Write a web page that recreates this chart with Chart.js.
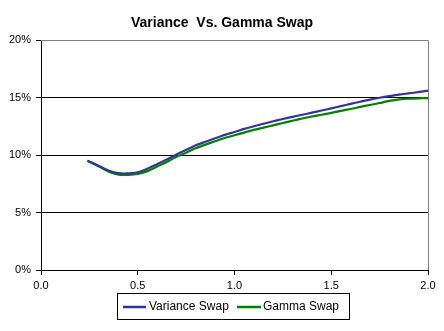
<!DOCTYPE html>
<html>
<head>
<meta charset="utf-8">
<script src="https://cdn.jsdelivr.net/npm/chart.js@4"></script>
<style>
  html, body { margin: 0; padding: 0; background: #fff; }
  #wrap { width: 444px; height: 331px; position: relative; }
</style>
</head>
<body>
<div id="wrap"><canvas id="swapChart" width="444" height="331"></canvas></div>
<script>
// Données
const chartTitle = 'Variance  Vs. Gamma Swap';
const maturities = [0.24, 0.30, 0.35, 0.40, 0.45, 0.50, 0.55, 0.60, 0.65, 0.70,
                    0.75, 0.80, 0.85, 0.90, 0.95, 1.00, 1.05, 1.10, 1.15, 1.20,
                    1.25, 1.30, 1.35, 1.40, 1.45, 1.50, 1.55, 1.60, 1.65, 1.70,
                    1.75, 1.80, 1.85, 1.90, 1.95, 2.00];
const varianceSwap = [9.5, 9.05, 8.65, 8.42, 8.4, 8.5, 8.8, 9.2, 9.6, 10.05,
                      10.45, 10.85, 11.15, 11.45, 11.75, 12.0, 12.27, 12.5, 12.72, 12.93,
                      13.13, 13.32, 13.5, 13.68, 13.87, 14.05, 14.25, 14.45, 14.63, 14.82,
                      14.98, 15.12, 15.25, 15.36, 15.47, 15.6];
const gammaSwap = [9.5, 9.0, 8.55, 8.3, 8.28, 8.35, 8.6, 9.0, 9.4, 9.85,
                   10.2, 10.58, 10.9, 11.2, 11.48, 11.72, 11.95, 12.18, 12.38, 12.58,
                   12.78, 12.98, 13.17, 13.35, 13.5, 13.66, 13.84, 14.0, 14.18, 14.35,
                   14.52, 14.7, 14.83, 14.9, 14.93, 14.95];
const seriesNames = ['Variance Swap', 'Gamma Swap'];
const seriesColors = ['#333399', '#008000'];
const xTicks = [0, 0.5, 1, 1.5, 2];
const yTicks = [0, 5, 10, 15, 20];

const FONT = '"Liberation Sans", Arial, sans-serif';

function toPoints(values) {
    return maturities.map((m, i) => ({ x: m, y: values[i] }));
}

// Titre, cadre gris et légende encadrée
const decorPlugin = {
    id: 'decor',
    afterDraw(chart) {
        const ctx = chart.ctx;
        const area = chart.chartArea;
        ctx.save();
        // cadre gris haut / droite
        ctx.strokeStyle = '#808080';
        ctx.lineWidth = 1;
        ctx.beginPath();
        ctx.moveTo(area.left, area.top + 0.5);
        ctx.lineTo(area.right + 0.5, area.top + 0.5);
        ctx.lineTo(area.right + 0.5, area.bottom);
        ctx.stroke();

        // titre
        ctx.fillStyle = '#000';
        ctx.font = 'bold 14px ' + FONT;
        ctx.textAlign = 'center';
        ctx.textBaseline = 'middle';
        ctx.fillText(chartTitle, 222, 23);

        // légende
        ctx.strokeStyle = '#000';
        ctx.strokeRect(117.5, 293.5, 232, 26);
        ctx.font = '12px ' + FONT;
        ctx.textAlign = 'left';
        const items = [
            { x1: 123, x2: 146, tx: 149 },
            { x1: 237, x2: 261, tx: 263 }
        ];
        items.forEach((it, i) => {
            ctx.strokeStyle = seriesColors[i];
            ctx.lineWidth = 2.5;
            ctx.beginPath();
            ctx.moveTo(it.x1, 307);
            ctx.lineTo(it.x2, 307);
            ctx.stroke();
            ctx.fillStyle = '#000';
            ctx.fillText(seriesNames[i], it.tx, 307);
        });
        ctx.restore();
    }
};

const ctx = document.getElementById('swapChart').getContext('2d');
const swapChart = new Chart(ctx, {
    type: 'line',
    data: {
        datasets: [
            {
                label: seriesNames[0],
                data: toPoints(varianceSwap),
                borderColor: seriesColors[0],
                borderWidth: 2.2,
                pointRadius: 0,
                tension: 0.2,
                fill: false
            },
            {
                label: seriesNames[1],
                data: toPoints(gammaSwap),
                borderColor: seriesColors[1],
                borderWidth: 2.2,
                pointRadius: 0,
                tension: 0.2,
                fill: false
            }
        ]
    },
    options: {
        responsive: false,
        animation: false,
        layout: { padding: { top: 40, right: 16, bottom: 0, left: 0 } },
        plugins: {
            legend: { display: false },
            title: { display: false },
            tooltip: { enabled: false }
        },
        scales: {
            x: {
                type: 'linear',
                min: 0,
                max: 2,
                afterFit: scale => { scale.height = 61; },
                afterBuildTicks: scale => { scale.ticks = xTicks.map(v => ({ value: v })); },
                ticks: {
                    color: '#000',
                    font: { family: FONT, size: 11 },
                    padding: 4,
                    maxRotation: 0,
                    callback: value => value.toFixed(1)
                },
                grid: {
                    drawOnChartArea: false,
                    drawTicks: true,
                    tickLength: 5,
                    color: '#000'
                },
                border: { color: '#000', width: 1 }
            },
            y: {
                min: 0,
                max: 20,
                afterFit: scale => { scale.width = 41; },
                afterBuildTicks: scale => { scale.ticks = yTicks.map(v => ({ value: v })); },
                ticks: {
                    color: '#000',
                    font: { family: FONT, size: 11 },
                    padding: 5,
                    callback: value => value + '%'
                },
                grid: {
                    color: ctx => (ctx.tick && ctx.tick.value === 20) ? 'rgba(0,0,0,0)' : '#000',
                    tickColor: '#000',
                    tickLength: 5,
                    lineWidth: 1
                },
                border: { color: '#000', width: 1 }
            }
        }
    },
    plugins: [decorPlugin]
});
</script>
</body>
</html>
